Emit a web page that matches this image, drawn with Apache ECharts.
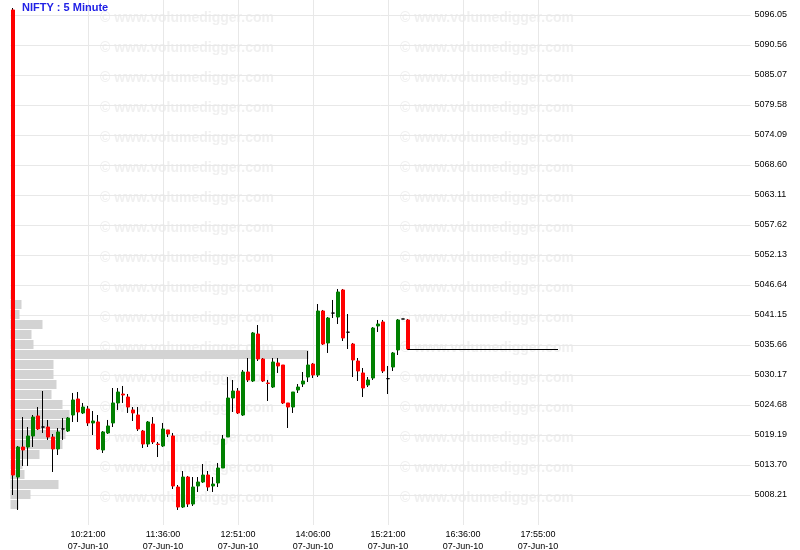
<!DOCTYPE html>
<html>
<head>
<meta charset="utf-8">
<script src="https://cdn.jsdelivr.net/npm/echarts@6/dist/echarts.min.js"></script>
<style>html,body{margin:0;padding:0;background:#fff}#c{width:800px;height:550px}</style>
</head>
<body>
<div id="c"></div>
<script>
// ---- data ----
const titleText = 'NIFTY : 5 Minute';
const tickLabels = ['10:21:00','11:36:00','12:51:00','14:06:00','15:21:00','16:36:00','17:55:00'];
const tickDate = '07-Jun-10';
const slotCount = 148;          // 5-minute slots on the time axis
const tickEvery = 15;           // a label every 15 slots
const yMin = 5002.72, yMax = 5098.795, yStep = 5.49;

const open = [5096.97,5011.50,5016.99,5016.99,5019.01,5022.67,5020.65,5020.65,5018.82,5016.63,
 5020.29,5019.92,5022.85,5025.78,5023.22,5023.95,5021.39,5021.57,5016.45,5019.56,
 5021.39,5025.05,5026.69,5026.14,5023.77,5022.85,5019.92,5017.54,5021.20,5017.54,
 5017.18,5020.11,5019.01,5009.67,5006.01,5011.50,5006.56,5009.86,5010.59,5011.87,
 5009.86,5010.41,5013.15,5018.82,5025.96,5027.24,5022.85,5030.72,5029.07,5037.67,
 5033.10,5028.71,5027.97,5032.37,5032.00,5025.05,5024.31,5027.43,5028.52,5029.80,
 5032.18,5030.17,5041.88,5036.03,5041.50,5040.78,5045.73,5038.00,5035.84,5032.73,
 5030.54,5028.34,5029.62,5039.14,5039.87,5029.50,5031.63,5034.75,5040.42,5040.24];
const close = [5011.87,5016.99,5016.45,5019.01,5022.48,5020.29,5020.65,5018.82,5016.63,5019.74,
 5020.29,5022.30,5025.60,5023.40,5024.31,5021.39,5021.75,5016.63,5019.74,5020.84,
 5025.05,5027.06,5026.51,5024.31,5023.22,5020.29,5017.54,5021.57,5017.91,5017.45,
 5020.29,5019.37,5009.86,5006.01,5011.50,5006.56,5009.67,5010.59,5011.87,5009.67,
 5010.22,5013.15,5018.46,5025.96,5027.24,5023.22,5030.72,5029.26,5037.86,5033.10,
 5029.07,5028.62,5032.55,5031.82,5025.05,5024.31,5027.06,5027.97,5029.07,5032.00,
 5030.17,5041.88,5035.84,5040.60,5041.50,5045.36,5036.94,5038.00,5032.92,5030.90,
 5027.79,5029.26,5038.77,5039.50,5030.90,5029.50,5034.20,5040.24,5040.42,5034.93];
const low = [5008.21,5005.47,5013.52,5013.52,5016.99,5020.11,5019.56,5018.28,5012.42,5015.53,
 5018.28,5019.74,5021.57,5021.57,5023.03,5020.84,5019.19,5016.45,5015.90,5019.37,
 5020.65,5023.77,5025.05,5023.22,5021.75,5019.92,5016.81,5016.99,5017.54,5015.16,
 5016.99,5018.82,5009.31,5005.47,5005.83,5006.01,5006.20,5008.76,5010.41,5008.94,
 5008.76,5009.67,5013.15,5018.82,5023.40,5023.03,5022.67,5028.89,5028.89,5032.73,
 5028.89,5025.41,5027.79,5030.54,5024.86,5020.47,5023.22,5026.88,5027.97,5028.89,
 5029.62,5029.80,5035.66,5034.20,5040.60,5039.50,5036.39,5034.93,5029.80,5029.07,
 5026.14,5027.97,5029.26,5038.04,5030.54,5026.69,5030.90,5033.83,5040.42,5034.75];
const high = [5097.33,5017.18,5022.48,5020.65,5022.85,5024.31,5027.24,5021.94,5019.37,5020.47,
 5022.30,5022.48,5026.88,5027.06,5025.05,5024.50,5023.58,5022.85,5019.92,5021.94,
 5027.79,5027.79,5028.16,5026.69,5024.31,5024.31,5020.11,5021.75,5022.48,5017.91,
 5021.39,5020.11,5019.56,5010.04,5012.60,5011.69,5011.50,5011.50,5013.88,5012.60,
 5011.50,5014.07,5019.19,5029.80,5029.26,5027.79,5031.09,5033.28,5038.04,5039.32,
 5033.28,5029.26,5033.28,5033.28,5032.00,5025.05,5027.06,5028.52,5030.72,5034.56,
 5032.37,5043.16,5042.07,5040.78,5043.90,5045.91,5045.91,5041.33,5036.03,5033.28,
 5031.45,5029.80,5038.95,5040.24,5040.24,5031.82,5034.38,5040.42,5040.42,5040.42];

// volume-at-price profile (row low price, volume in relative units), bottom to top
const profileLow = [5005.47,5007.30,5009.13,5010.96,5012.79,5014.62,5016.45,5018.28,5020.11,5021.94,
 5023.77,5025.60,5027.43,5029.26,5031.09,5032.92,5034.75,5036.58,5038.41,5040.24,5042.07,5043.90];
const profileVol = [8,20,48,14,12,29,52,55,56,59,52,41,46,43,43,298,23,21,32,9,11,4];
const profileRow = 1.83;
const profileMax = 740;

// last price line extends to slot index
const lastLineEnd = 109;

// ---- build ----
const slots = Array.from({length: slotCount}, (_, i) => String(i));
const wickData = open.map((o, i) => [o, close[i], low[i], high[i]]);
const bodyData = open.map((o, i) => [o, close[i], Math.min(o, close[i]), Math.max(o, close[i])]);
const profileData = profileVol.map((v, i) => [v, profileLow[i]]);
const lastIdx = close.length - 1;
const lastClose = close[lastIdx];
const isTick = (idx) => idx > 0 && idx % tickEvery === 0 && idx / tickEvery <= tickLabels.length;

const watermarks = [];
for (let r = 0; r < 17; r++) {
  for (const x of [100, 400]) {
    watermarks.push({
      type: 'text', left: x, top: 11 + r * 30, z: -1, silent: true,
      style: { text: '\u00A9 www.volumedigger.com', fill: '#f0f0f0',
               font: 'bold 14px "Liberation Sans", Arial, sans-serif' }
    });
  }
}

const chart = echarts.init(document.getElementById('c'), null, {renderer: 'canvas'});
chart.setOption({
  animation: false,
  backgroundColor: '#fff',
  title: {
    text: titleText, left: 22, top: 2, padding: 0,
    textStyle: { color: '#2121e6', fontSize: 11, fontWeight: 'bold', fontFamily: '"Liberation Sans", Arial, sans-serif' }
  },
  graphic: watermarks,
  grid: { left: 10.5, right: 49.5, top: 0, bottom: 25, containLabel: false, outerBoundsMode: 'none' },
  xAxis: [{
    type: 'category', data: slots, boundaryGap: true,
    axisLine: { show: false }, axisTick: { show: false },
    axisLabel: {
      interval: (idx) => isTick(idx),
      formatter: (v, idx) => tickLabels[idx / tickEvery - 1] + '\n' + tickDate,
      color: '#000', fontSize: 9, lineHeight: 12, margin: 4,
      fontFamily: '"Liberation Sans", Arial, sans-serif'
    },
    splitLine: { show: true, interval: (idx) => isTick(idx), alignWithLabel: true,
                 lineStyle: { color: '#e8e8e8', width: 1 } }
  }, {
    type: 'value', min: 0, max: profileMax, show: false
  }],
  yAxis: [{
    type: 'value', position: 'right', min: yMin, max: yMax, interval: yStep,
    axisLine: { show: false }, axisTick: { show: false },
    axisLabel: {
      formatter: (v) => v.toFixed(2), showMinLabel: false, showMaxLabel: false,
      color: '#000', fontSize: 9, margin: 4, fontFamily: '"Liberation Sans", Arial, sans-serif'
    },
    splitLine: { show: true, showMinLine: false, showMaxLine: false, lineStyle: { color: '#e8e8e8', width: 1 } }
  }],
  series: [{
    type: 'custom', xAxisIndex: 1, yAxisIndex: 0, z: 1, silent: true,
    data: profileData,
    renderItem: (params, api) => {
      const v = api.value(0), lo = api.value(1);
      const p0 = api.coord([0, lo + profileRow]);
      const p1 = api.coord([v, lo]);
      return { type: 'rect',
        shape: { x: Math.round(p0[0]) - 0.5, y: Math.round(p0[1]), width: p1[0] - p0[0], height: Math.round(p1[1]) - Math.round(p0[1]) - 1 },
        style: { fill: '#d3d3d3' } };
    }
  }, {
    type: 'candlestick', name: 'wick', xAxisIndex: 0, yAxisIndex: 0, z: 2, silent: true,
    data: wickData, barWidth: 0.001,
    itemStyle: { color: '#000', color0: '#000', borderColor: '#000', borderColor0: '#000', borderColorDoji: '#000', borderWidth: 1 }
  }, {
    type: 'candlestick', name: 'body', xAxisIndex: 0, yAxisIndex: 0, z: 3, silent: true,
    data: bodyData, barWidth: 3,
    itemStyle: { color: '#008000', color0: '#ff0000', borderColor: '#008000', borderColor0: '#ff0000', borderColorDoji: '#000', borderWidth: 1 },
    markLine: {
      silent: true, symbol: ['none', 'none'], animation: false,
      label: { show: false },
      lineStyle: { color: '#000', width: 1, type: 'solid' },
      data: [[{ coord: [String(lastIdx), lastClose] }, { coord: [String(lastLineEnd), lastClose] }]]
    }
  }]
});
</script>
</body>
</html>
